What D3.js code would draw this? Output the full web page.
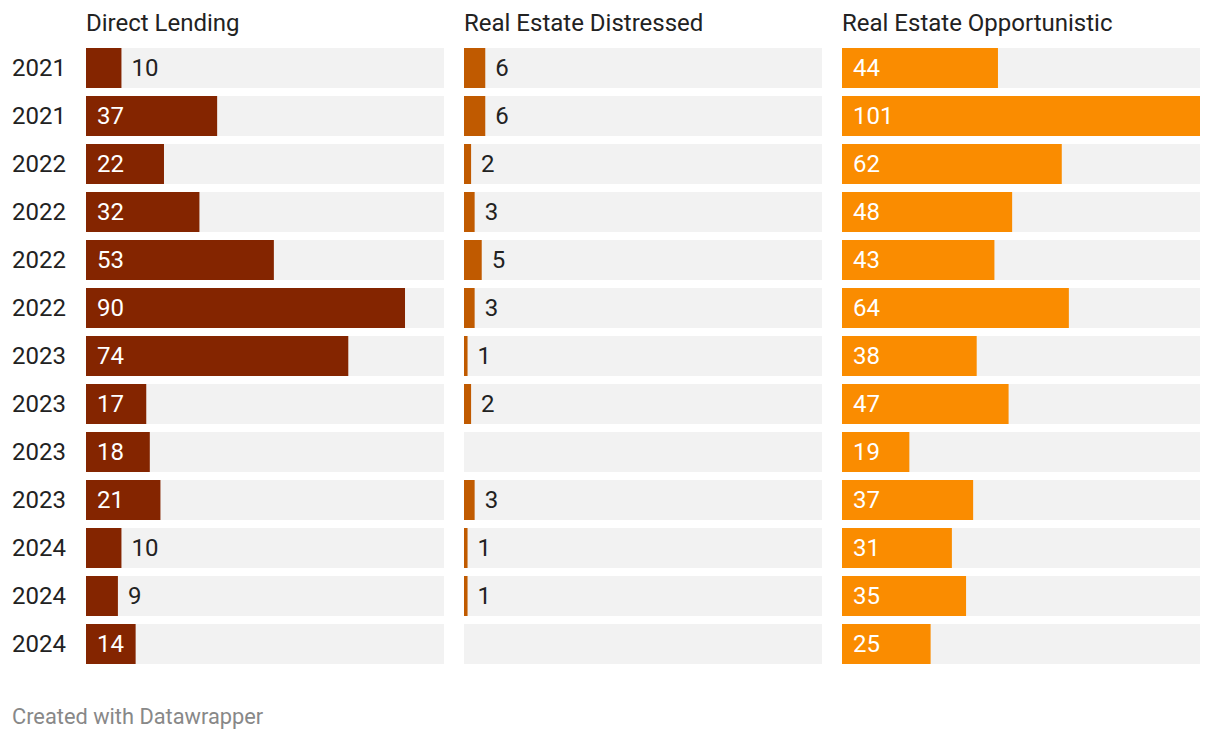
<!DOCTYPE html>
<html><head><meta charset="utf-8">
<script src="https://cdn.jsdelivr.net/npm/d3@7"></script>
<style>
body{margin:0;background:#fff;font-family:Roboto,"Noto Sans",sans-serif;}
</style></head>
<body><svg id="c" width="1220" height="740"></svg>
<script>
const years = ["2021","2021","2022","2022","2022","2022","2023","2023","2023","2023","2024","2024","2024"];
const seriesNames = ["Direct Lending","Real Estate Distressed","Real Estate Opportunistic"];
const directLending = [10,37,22,32,53,90,74,17,18,21,10,9,14];
const reDistressed = [6,6,2,3,5,3,1,2,null,3,1,1,null];
const reOpportunistic = [44,101,62,48,43,64,38,47,19,37,31,35,25];
const seriesColors = ["#842500","#c05a00","#fa8c00"];
const allSeries = [directLending, reDistressed, reOpportunistic];

const svg = d3.select("#c");
const rows = d3.range(years.length);
const y = d3.scaleBand().domain(rows).range([48,664]).paddingInner(8/48).paddingOuter(0);
const maxV = d3.max(allSeries.flat());
const panelX = [86,464,842];
const panelW = 358;
const x = d3.scaleLinear().domain([0,maxV]).range([0,panelW]);
const fs = 24;

svg.selectAll("text.yr").data(rows).join("text")
  .attr("x",12).attr("y",i=>y(i)+y.bandwidth()/2)
  .attr("dy","0.33em").attr("font-size",fs).attr("fill","#222")
  .text(i=>years[i]);

allSeries.forEach((vals,si)=>{
  const g = svg.append("g").attr("transform",`translate(${panelX[si]},0)`);
  g.append("text").attr("x",0).attr("y",31).attr("font-size",fs).attr("fill","#222").text(seriesNames[si]);
  g.selectAll("rect.bg").data(rows).join("rect")
    .attr("x",0).attr("y",i=>y(i)).attr("width",panelW).attr("height",y.bandwidth()).attr("fill","#f2f2f2");
  const valid = rows.filter(i=>vals[i]!=null);
  g.selectAll("rect.bar").data(valid).join("rect")
    .attr("x",0).attr("y",i=>y(i)).attr("width",i=>x(vals[i])).attr("height",y.bandwidth()).attr("fill",seriesColors[si]);
  g.selectAll("text.v").data(valid).join("text")
    .attr("y",i=>y(i)+y.bandwidth()/2).attr("dy","0.33em").attr("font-size",fs)
    .text(i=>vals[i])
    .each(function(i){
      const t=d3.select(this);
      const w=this.getComputedTextLength();
      const bw=x(vals[i]);
      if(bw>w+20){t.attr("x",11).attr("fill","#fff");}
      else{t.attr("x",bw+10).attr("fill","#222");}
    });
});

svg.append("text").attr("x",12).attr("y",724).attr("font-size",21.8).attr("fill","#888").text("Created with Datawrapper");
</script></body></html>
